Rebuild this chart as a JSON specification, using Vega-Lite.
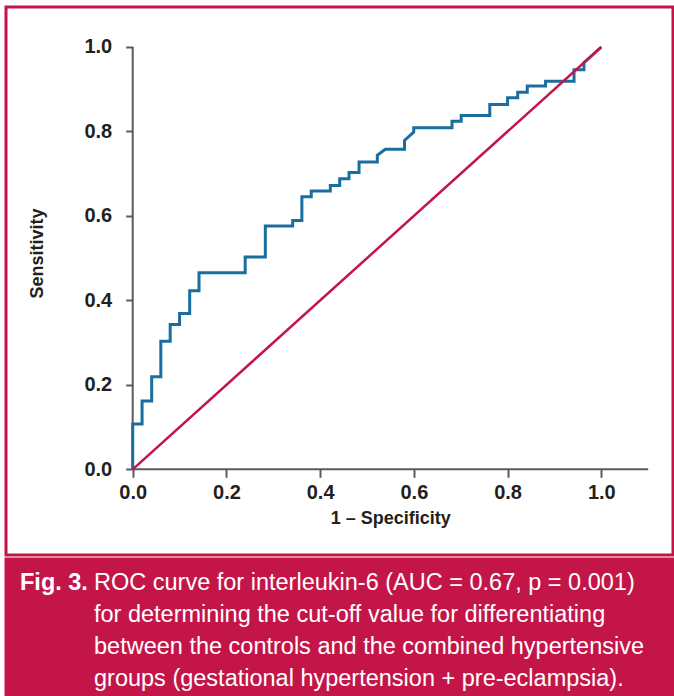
{
  "$schema": "https://vega.github.io/schema/vega-lite/v6.json",
  "background": "white",
  "padding": {"left": 4, "top": 5, "right": 3, "bottom": 7},
  "config": {"view": {"stroke": null}, "concat": {"spacing": 0}},
  "spacing": 0,
  "datasets": {
    "roc": [
      {"i": 0, "fpr": 0, "tpr": 0},
      {"i": 1, "fpr": 0, "tpr": 0.107},
      {"i": 2, "fpr": 0.02, "tpr": 0.107},
      {"i": 3, "fpr": 0.02, "tpr": 0.162},
      {"i": 4, "fpr": 0.0405, "tpr": 0.162},
      {"i": 5, "fpr": 0.0405, "tpr": 0.219},
      {"i": 6, "fpr": 0.06, "tpr": 0.219},
      {"i": 7, "fpr": 0.06, "tpr": 0.303},
      {"i": 8, "fpr": 0.08, "tpr": 0.303},
      {"i": 9, "fpr": 0.08, "tpr": 0.343},
      {"i": 10, "fpr": 0.1, "tpr": 0.343},
      {"i": 11, "fpr": 0.1, "tpr": 0.369},
      {"i": 12, "fpr": 0.1216, "tpr": 0.369},
      {"i": 13, "fpr": 0.1216, "tpr": 0.423},
      {"i": 14, "fpr": 0.1415, "tpr": 0.423},
      {"i": 15, "fpr": 0.1415, "tpr": 0.4655},
      {"i": 16, "fpr": 0.24, "tpr": 0.4655},
      {"i": 17, "fpr": 0.24, "tpr": 0.503},
      {"i": 18, "fpr": 0.283, "tpr": 0.503},
      {"i": 19, "fpr": 0.283, "tpr": 0.576},
      {"i": 20, "fpr": 0.3414, "tpr": 0.576},
      {"i": 21, "fpr": 0.3414, "tpr": 0.589},
      {"i": 22, "fpr": 0.361, "tpr": 0.589},
      {"i": 23, "fpr": 0.361, "tpr": 0.6455},
      {"i": 24, "fpr": 0.381, "tpr": 0.6455},
      {"i": 25, "fpr": 0.381, "tpr": 0.659},
      {"i": 26, "fpr": 0.4217, "tpr": 0.659},
      {"i": 27, "fpr": 0.4217, "tpr": 0.672},
      {"i": 28, "fpr": 0.4417, "tpr": 0.672},
      {"i": 29, "fpr": 0.4417, "tpr": 0.688},
      {"i": 30, "fpr": 0.4616, "tpr": 0.688},
      {"i": 31, "fpr": 0.4616, "tpr": 0.703},
      {"i": 32, "fpr": 0.483, "tpr": 0.703},
      {"i": 33, "fpr": 0.483, "tpr": 0.7277},
      {"i": 34, "fpr": 0.522, "tpr": 0.7277},
      {"i": 35, "fpr": 0.522, "tpr": 0.7435},
      {"i": 36, "fpr": 0.539, "tpr": 0.758},
      {"i": 37, "fpr": 0.58, "tpr": 0.758},
      {"i": 38, "fpr": 0.58, "tpr": 0.779},
      {"i": 39, "fpr": 0.5997, "tpr": 0.7987},
      {"i": 40, "fpr": 0.5997, "tpr": 0.809},
      {"i": 41, "fpr": 0.6814, "tpr": 0.809},
      {"i": 42, "fpr": 0.6814, "tpr": 0.824},
      {"i": 43, "fpr": 0.701, "tpr": 0.824},
      {"i": 44, "fpr": 0.701, "tpr": 0.838},
      {"i": 45, "fpr": 0.762, "tpr": 0.838},
      {"i": 46, "fpr": 0.762, "tpr": 0.864},
      {"i": 47, "fpr": 0.8, "tpr": 0.864},
      {"i": 48, "fpr": 0.8, "tpr": 0.88},
      {"i": 49, "fpr": 0.8216, "tpr": 0.88},
      {"i": 50, "fpr": 0.8216, "tpr": 0.893},
      {"i": 51, "fpr": 0.842, "tpr": 0.893},
      {"i": 52, "fpr": 0.842, "tpr": 0.9077},
      {"i": 53, "fpr": 0.881, "tpr": 0.9077},
      {"i": 54, "fpr": 0.881, "tpr": 0.919},
      {"i": 55, "fpr": 0.9418, "tpr": 0.919},
      {"i": 56, "fpr": 0.9418, "tpr": 0.946},
      {"i": 57, "fpr": 0.963, "tpr": 0.946},
      {"i": 58, "fpr": 0.963, "tpr": 0.963},
      {"i": 59, "fpr": 1, "tpr": 1}
    ],
    "diag": [{"fpr": 0, "tpr": 0}, {"fpr": 1, "tpr": 1}],
    "axislines": [
      {"axis": "x", "fpr": 0, "tpr": 0},
      {"axis": "x", "fpr": 1.1, "tpr": 0},
      {"axis": "y", "fpr": 0, "tpr": 0},
      {"axis": "y", "fpr": 0, "tpr": 1}
    ],
    "label": [{"line": 1, "text": "Fig. 3."}],
    "caption": [
      {"line": 1, "text": "ROC curve for interleukin-6 (AUC = 0.67, p = 0.001)"},
      {"line": 2, "text": "for determining the cut-off value for differentiating"},
      {"line": 3, "text": "between the controls and the combined hypertensive"},
      {"line": 4, "text": "groups (gestational hypertension + pre-eclampsia)."}
    ]
  },
  "vconcat": [
    {
      "width": 667,
      "height": 548,
      "view": {"stroke": "#c41549", "strokeWidth": 3, "fill": "white"},
      "encoding": {
        "x": {
          "field": "fpr",
          "type": "quantitative",
          "scale": {"domain": [-0.2704, 1.153], "nice": false, "zero": false},
          "axis": {
            "values": [0, 0.2, 0.4, 0.6, 0.8, 1],
            "format": ".1f",
            "domain": false,
            "grid": false,
            "offset": -85.7,
            "tickSize": 8,
            "tickWidth": 2,
            "tickColor": "#5b5b5b",
            "labelFont": "Liberation Sans",
            "labelFontWeight": "bold",
            "labelFontSize": 20,
            "labelColor": "#231f20",
            "labelPadding": 5,
            "labelOverlap": false,
            "labelFlush": false,
            "title": "1 – Specificity",
            "titleFont": "Liberation Sans",
            "titleFontWeight": "bold",
            "titleFontSize": 18,
            "titleColor": "#231f20",
            "titleX": 384.3,
            "titleY": 49,
            "titleAlign": "center",
            "titleBaseline": "middle"
          }
        },
        "y": {
          "field": "tpr",
          "type": "quantitative",
          "scale": {"domain": [-0.2029, 1.0947], "nice": false, "zero": false},
          "axis": {
            "values": [0, 0.2, 0.4, 0.6, 0.8, 1],
            "format": ".1f",
            "domain": false,
            "grid": false,
            "offset": -126.7,
            "tickSize": 7,
            "tickWidth": 2,
            "tickColor": "#5b5b5b",
            "labelFont": "Liberation Sans",
            "labelFontWeight": "bold",
            "labelFontSize": 20,
            "labelColor": "#231f20",
            "labelPadding": 14,
            "labelOverlap": false,
            "labelFlush": false,
            "title": "Sensitivity",
            "titleFont": "Liberation Sans",
            "titleFontWeight": "bold",
            "titleFontSize": 18,
            "titleColor": "#231f20",
            "titleX": -95.7,
            "titleY": 246,
            "titleAngle": 270,
            "titleAlign": "center",
            "titleBaseline": "middle"
          }
        }
      },
      "layer": [
        {
          "data": {"name": "axislines"},
          "mark": {"type": "line", "color": "#5b5b5b", "strokeWidth": 2},
          "encoding": {"detail": {"field": "axis"}}
        },
        {
          "data": {"name": "roc"},
          "mark": {"type": "line", "color": "#1a6e9f", "strokeWidth": 3},
          "encoding": {"order": {"field": "i", "type": "quantitative"}}
        },
        {
          "data": {"name": "diag"},
          "mark": {"type": "line", "color": "#c41549", "strokeWidth": 2.5},
          "encoding": {}
        }
      ]
    },
    {
      "width": 667,
      "height": 136,
      "view": {"stroke": "#c41549", "strokeWidth": 3, "fill": "#c41549"},
      "encoding": {
        "y": {
          "field": "line",
          "type": "quantitative",
          "scale": {"domain": [0.25, 4.5], "range": [0, 136], "nice": false, "zero": false},
          "axis": null
        }
      },
      "layer": [
        {
          "data": {"name": "label"},
          "mark": {"type": "text", "font": "Liberation Sans", "fontWeight": "bold", "fontSize": 23.5, "color": "white", "align": "left", "baseline": "middle", "x": 14},
          "encoding": {"text": {"field": "text"}}
        },
        {
          "data": {"name": "caption"},
          "mark": {"type": "text", "font": "Liberation Sans", "fontSize": 23.5, "color": "white", "align": "left", "baseline": "middle", "x": 88},
          "encoding": {"text": {"field": "text"}}
        }
      ]
    }
  ]
}
